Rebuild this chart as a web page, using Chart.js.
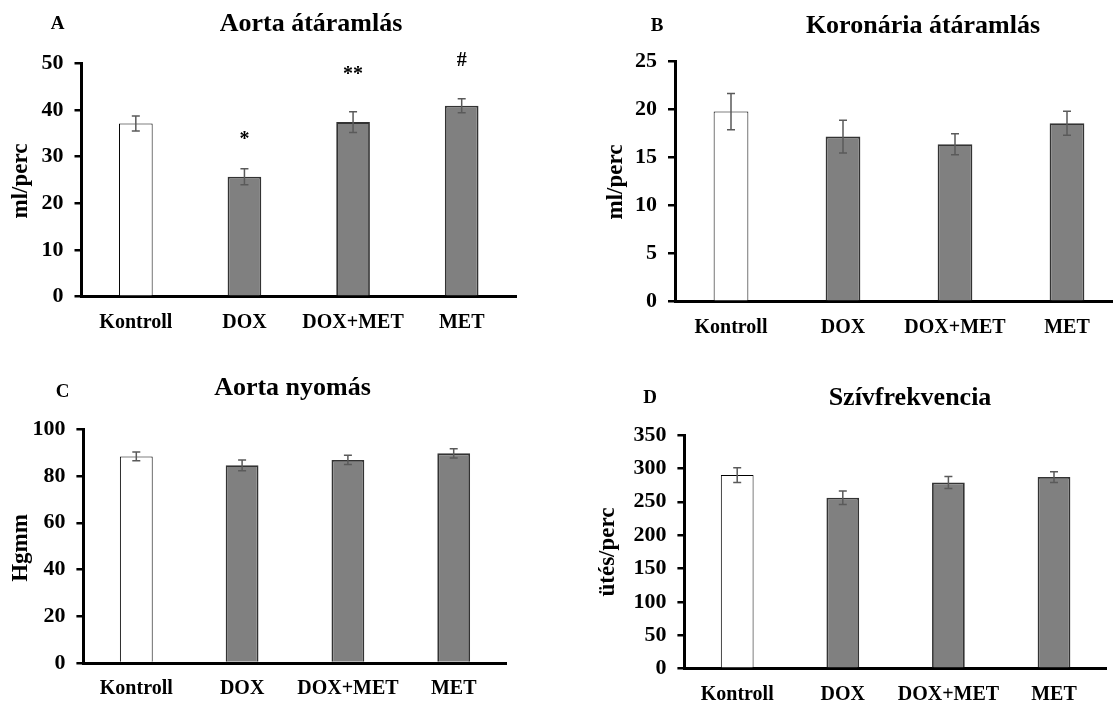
<!DOCTYPE html>
<html>
<head>
<meta charset="utf-8">
<script src="https://cdn.jsdelivr.net/npm/chart.js@4.4.1/dist/chart.umd.min.js"></script>
<style>
  html, body { margin: 0; padding: 0; background: #fff; overflow: hidden; width: 1113px; height: 702px; }
  canvas { position: absolute; }
</style>
</head>
<body>
<canvas id="cA" width="556" height="350" style="left:0;top:0"></canvas>
<canvas id="cB" width="580" height="350" style="left:556px;top:0"></canvas>
<canvas id="cC" width="556" height="360" style="left:0;top:350px"></canvas>
<canvas id="cD" width="580" height="360" style="left:556px;top:350px"></canvas>
<script>
// groups on the x axis (same for all four panels)
const groups = ["Kontroll", "DOX", "DOX+MET", "MET"];

// A - aorta flow (ml/perc)
const aortaFlow = [37.1, 25.7, 37.4, 40.9];
const aortaFlowErr = [1.6, 1.7, 2.2, 1.5];
const aortaFlowMarks = ["", "*", "**", "#"];
const aortaFlowMarkAt = [null, 34.3, 48.2, 50.5];

// B - coronary flow (ml/perc)
const coronaryFlow = [19.8, 17.2, 16.4, 18.6];
const coronaryFlowErr = [1.9, 1.7, 1.1, 1.25];

// C - aortic pressure (Hgmm)
const aortaPressure = [88.4, 84.6, 86.9, 89.7];
const aortaPressureErr = [1.9, 2.3, 2.0, 2.0];

// D - heart rate (ütés/perc)
const heartRate = [290, 256, 279, 287];
const heartRateErr = [11, 10, 9, 8];

const FONT = "'Liberation Serif', 'Times New Roman', serif";
const xFont = { family: FONT, size: 20, weight: "bold" };
const yFont = { family: FONT, size: 22, weight: "bold" };

// error bars + significance marks on top of the bars
const errorBars = {
  id: "errorBars",
  afterDatasetsDraw(chart) {
    const ds = chart.data.datasets[0];
    const meta = chart.getDatasetMeta(0);
    const y = chart.scales.y;
    const ctx = chart.ctx;
    ctx.save();
    ctx.strokeStyle = "#5a5a5a";
    ctx.lineWidth = 1.5;
    meta.data.forEach((bar, i) => {
      const top = y.getPixelForValue(ds.data[i] + ds.err[i]);
      const bot = y.getPixelForValue(ds.data[i] - ds.err[i]);
      ctx.beginPath();
      ctx.moveTo(bar.x, top); ctx.lineTo(bar.x, bot);
      ctx.moveTo(bar.x - 4, top); ctx.lineTo(bar.x + 4, top);
      ctx.moveTo(bar.x - 4, bot); ctx.lineTo(bar.x + 4, bot);
      ctx.stroke();
    });
    if (ds.marks) {
      ctx.fillStyle = "#000";
      ctx.font = "bold 20px " + FONT;
      ctx.textAlign = "center";
      ctx.textBaseline = "middle";
      meta.data.forEach((bar, i) => {
        if (!ds.marks[i]) return;
        let py = y.getPixelForValue(ds.markAt[i]);
        if (ds.marks[i].includes("*")) py += 3; // asterisk sits high in the em box
        ctx.fillText(ds.marks[i], bar.x, py);
      });
    }
    ctx.restore();
  },
};

// panel letter, title and y axis title
const panelText = (p) => ({
  id: "panelText",
  afterDraw(chart) {
    const ctx = chart.ctx;
    ctx.save();
    ctx.fillStyle = "#000";
    ctx.textAlign = "center";
    ctx.textBaseline = "middle";
    ctx.font = "bold 19px " + FONT;
    ctx.fillText(p.letter, p.letterPos[0], p.letterPos[1]);
    ctx.font = "bold 26px " + FONT;
    ctx.fillText(p.title, p.titlePos[0], p.titlePos[1]);
    ctx.translate(p.yTitlePos[0], p.yTitlePos[1]);
    ctx.rotate(-Math.PI / 2);
    ctx.font = "bold 23px " + FONT;
    ctx.fillText(p.yTitle, 0, 0);
    ctx.restore();
  },
});

const makePanel = (p) =>
  new Chart(document.getElementById(p.canvas), {
    type: "bar",
    data: {
      labels: groups,
      datasets: [
        {
          data: p.values,
          err: p.err,
          marks: p.marks,
          markAt: p.markAt,
          backgroundColor: groups.map((g, i) => (i === 0 ? "#ffffff" : "#808080")),
          borderColor: groups.map((g, i) => (i === 0 ? "#000000" : "#333333")),
          borderWidth: groups.map((g, i) => (i === 0 ? 1 : 1.8)),
          barPercentage: 0.31,
          categoryPercentage: 1,
        },
      ],
    },
    options: {
      responsive: false,
      animation: false,
      layout: { padding: p.pad },
      plugins: { legend: { display: false }, tooltip: { enabled: false } },
      scales: {
        x: {
          grid: { display: false, drawTicks: false },
          border: { color: "#000", width: 3 },
          ticks: { color: "#000", font: xFont, padding: 14, maxRotation: 0, minRotation: 0, autoSkip: false },
          afterFit: (s) => { s.height = 40; },
        },
        y: {
          min: 0,
          max: p.max,
          ticks: { stepSize: p.step, color: "#000", font: yFont, padding: 11 },
          grid: { drawOnChartArea: false, tickLength: 7, color: "#000", lineWidth: 2.5 },
          border: { color: "#000", width: 3 },
          afterFit: (s) => { s.width = 60; },
        },
      },
    },
    plugins: [errorBars, panelText(p)],
  });

makePanel({
  canvas: "cA", values: aortaFlow, err: aortaFlowErr, marks: aortaFlowMarks, markAt: aortaFlowMarkAt,
  max: 50, step: 10,
  pad: { left: 21.5, right: 40, top: 63.3, bottom: 13.3 },
  letter: "A", letterPos: [57.5, 24], title: "Aorta átáramlás", titlePos: [311, 24],
  yTitle: "ml/perc", yTitlePos: [21.5, 181],
});

makePanel({
  canvas: "cB", values: coronaryFlow, err: coronaryFlowErr,
  max: 25, step: 5,
  pad: { left: 59, right: 13, top: 61.7, bottom: 8.3 },
  letter: "B", letterPos: [101, 26], title: "Koronária átáramlás", titlePos: [367, 26],
  yTitle: "ml/perc", yTitlePos: [60, 182],
});

makePanel({
  canvas: "cC", values: aortaPressure, err: aortaPressureErr,
  max: 100, step: 20,
  pad: { left: 23.4, right: 49.4, top: 79.3, bottom: 7 },
  letter: "C", letterPos: [62.5, 42], title: "Aorta nyomás", titlePos: [292.5, 38],
  yTitle: "Hgmm", yTitlePos: [21, 198],
});

makePanel({
  canvas: "cD", values: heartRate, err: heartRateErr,
  max: 350, step: 50,
  pad: { left: 68.4, right: 29.2, top: 85, bottom: 1.3 },
  letter: "D", letterPos: [94, 48], title: "Szívfrekvencia", titlePos: [354, 48],
  yTitle: "ütés/perc", yTitlePos: [52, 202],
});
</script>
</body>
</html>
